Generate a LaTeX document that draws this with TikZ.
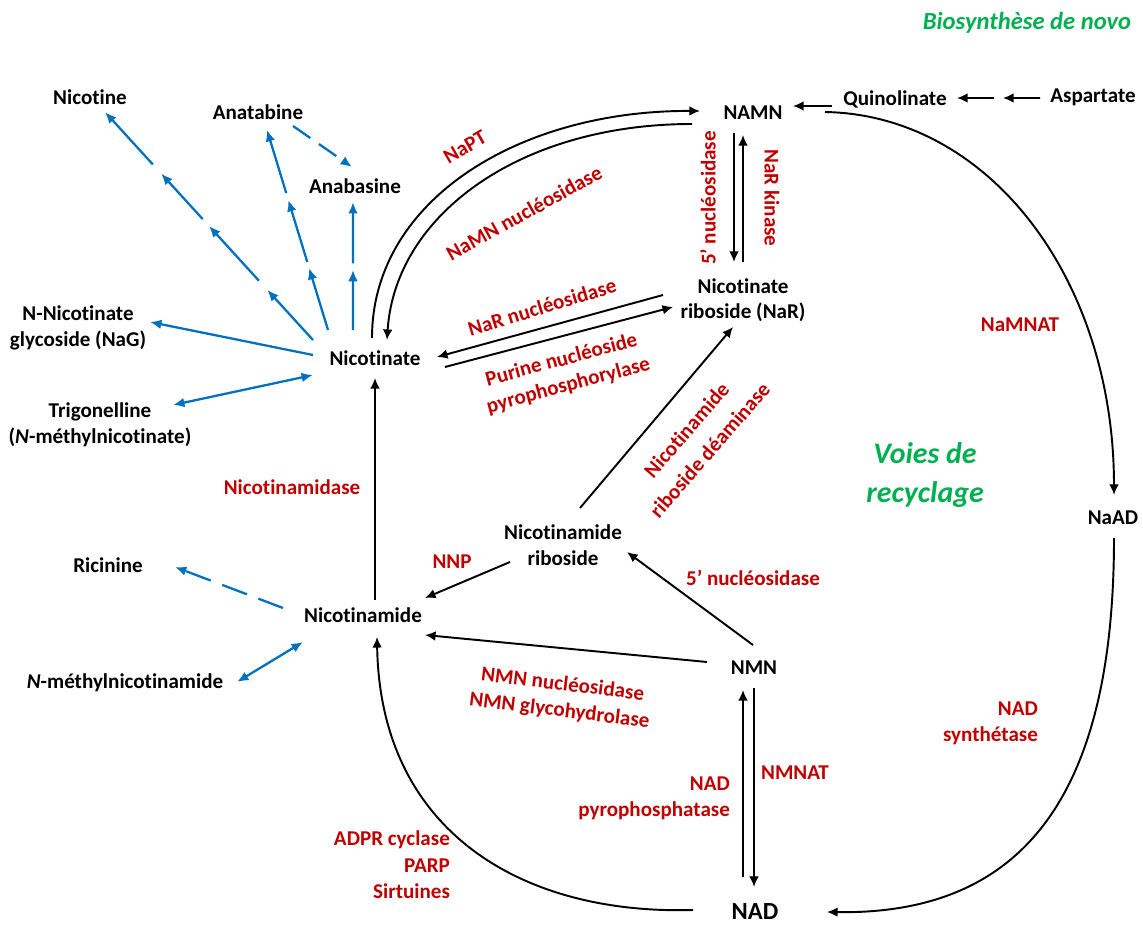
\documentclass[tikz,border=0pt]{standalone}
\usepackage{fontspec}
\setmainfont{Carlito}[Ligatures=NoCommon]
\usetikzlibrary{calc,arrows.meta}

\definecolor{enzred}{HTML}{C00000}
\definecolor{plantblue}{HTML}{0070C0}
\definecolor{voiegreen}{HTML}{00B050}

\tikzset{
  every node/.style={font=\bfseries\fontsize{12}{14.5}\selectfont, inner sep=1pt},
  sub/.style={align=center},
  enz/.style={text=enzred, align=center, font=\bfseries\fontsize{12}{15}\selectfont},
  voie/.style={text=voiegreen, align=center, font=\bfseries\itshape\fontsize{14}{17}\selectfont},
  reac/.style={-{Latex[length=6pt,width=5.5pt]}, line width=1.1pt},
  deriv/.style={-{Latex[length=6.5pt,width=5.5pt]}, line width=1.3pt, draw=plantblue},
  deriv2/.style={{Latex[length=6.5pt,width=5.5pt]}-{Latex[length=6.5pt,width=5.5pt]}, line width=1.3pt, draw=plantblue},
}

\begin{document}
\begin{tikzpicture}[x=0.02cm, y=-0.02cm]
        \useasboundingbox (0,0) rectangle (1143,925);

        % 1. Plant derivatives (left)
        \node (nicotine) at (90,97) {Nicotine};
        \node (anatabine) at (258,112) {Anatabine};
        \node (anabasine) at (355,186) {Anabasine};
        \node (nag) at (78,328) [sub] {N-Nicotinate\\glycoside (NaG)};
        \node (trigo) at (100,425) [sub] {Trigonelline\\(\textit{N}-méthylnicotinate)};
        \node (ricinine) at (108,565) {Ricinine};
        \node (mnam) at (125,683) {\textit{N}-méthylnicotinamide};

        % 2. Pyridine nucleotide cycle
        \node (nicotinate) at (375,358) {Nicotinate};
        \node (nicotinamide) at (363,615) {Nicotinamide};
        \node (namn) at (753,113) {NAMN};
        \node (quin) at (895,99) {Quinolinate};
        \node (asp) at (1093,97) {Aspartate};
        \node (nar) at (743,300) [sub] {Nicotinate\\riboside (NaR)};
        \node (naad) at (1113,518) {NaAD};
        \node (nr) at (563,545) [sub] {Nicotinamide\\riboside};
        \node (nmn) at (754,668) {NMN};
        \node (nad) at (755,912) [font=\bfseries\fontsize{14}{16}\selectfont] {NAD};

        % 3. Enzymes
        \node (napt) at (465,147) [enz, rotate=30] {NaPT};
        \node (namnnuc) at (524,213) [enz, rotate=29] {NaMN nucléosidase};
        \node (nuc5a) at (708,198) [enz, rotate=90] {5’ nucléosidase};
        \node (narkin) at (772,198) [enz, rotate=-90] {NaR kinase};
        \node (narnuc) at (542,307) [enz, rotate=17] {NaR nucléosidase};
        \node (pnp) at (565,373) [enz, rotate=15] {Purine nucléoside\\pyrophosphorylase};
        \node (nrdeam) at (698,440) [enz, rotate=49, font=\bfseries\fontsize{12}{17.5}\selectfont] {Nicotinamide\\riboside déaminase};
        \node (namidase) at (292,487) [enz] {Nicotinamidase};
        \node (nnp) at (452,562) [enz] {NNP};
        \node (nuc5b) at (753,578) [enz] {5’ nucléosidase};
        \node (nmnnuc) at (561,698) [enz, rotate=-7] {NMN nucléosidase\\NMN glycohydrolase};
        \node (nadpp) at (732,798) [enz, align=right, anchor=east] {NAD\\pyrophosphatase};
        \node (nmnat) at (795,773) [enz] {NMNAT};
        \node (nadsyn) at (1040,723) [enz, align=right, anchor=east] {NAD\\synthétase};
        \node (namnat) at (1020,325) [enz] {NaMNAT};
        \node (adpr) at (452,865) [enz, align=right, anchor=east] {ADPR cyclase\\PARP\\Sirtuines};

        % 4. Titles
        \node (voies) at (925,475) [voie, font=\bfseries\itshape\fontsize{17}{22}\selectfont] {Voies de\\recyclage};
        \node (denovo) at (1027,23) [voie] {Biosynthèse de novo};

        % 5. Blue arrows from Nicotinate / Nicotinamide
        \coordinate (nt-a) at ($(nicotinate)+(-62,-18)$);
        \coordinate (nt-b) at ($(nicotine)+(15,15)$);
        \foreach \s/\e in {0/0.22,0.26/0.5,0.53/0.73,0.77/1}
          \draw[deriv] ($(nt-a)!\s!(nt-b)$) -- ($(nt-a)!\e!(nt-b)$);
        \coordinate (at-a) at ($(nicotinate)+(-47,-28)$);
        \coordinate (at-b) at ($(anatabine)+(9,18)$);
        \foreach \s/\e in {0/0.31,0.34/0.65,0.685/1}
          \draw[deriv] ($(at-a)!\s!(at-b)$) -- ($(at-a)!\e!(at-b)$);
        \coordinate (ab-a) at ($(nicotinate)+(-22,-28)$);
        \coordinate (ab-b) at ($(anabasine)+(-2,16)$);
        \foreach \s/\e in {0/0.47,0.52/1}
          \draw[deriv] ($(ab-a)!\s!(ab-b)$) -- ($(ab-a)!\e!(ab-b)$);
        \draw[deriv, dash pattern=on 12pt off 6pt] ($(anatabine)+(35,14)$) -- ($(anabasine)+(-3,-19)$);
        \draw[deriv] ($(nicotinate)+(-62,-3)$) -- ($(nag)+(72,-6)$);
        \draw[deriv2] ($(nicotinate)+(-62,17)$) -- ($(trigo)+(73,-20)$);
        \draw[deriv, dash pattern=on 15pt off 7pt] ($(nicotinamide)+(-80,-7)$) -- ($(ricinine)+(67,2)$);
        \draw[deriv2] ($(nicotinamide)+(-60,27)$) -- ($(mnam)+(112,-1)$);

        % 6. De novo branch
        \coordinate (qa) at ($(quin)!0.5!(asp)$);
        \draw[reac] ($(asp)+(-53,1)$) -- ($(qa)+(9,0)$);
        \draw[reac] (qa) -- ($(quin)+(62,-1)$);
        \draw[reac] ($(quin)+(-63,7)$) -- ($(namn)+(40,-7)$);
        \draw[reac] ($(namn)+(72,-1)$) .. controls (990,115) and (1114,280) .. ($(naad)+(1,-23)$);
        \draw[reac] ($(naad)+(1,20)$) .. controls (1114,800) and (1020,915) .. ($(nad)+(72,0)$);

        % 7. Recycling
        \draw[reac] ($(nicotinate)+(-3,-20)$) .. controls (372,200) and (520,110) .. ($(namn)+(-53,-2)$);
        \draw[reac] ($(namn)+(-61,11)$) .. controls (520,124) and (395,215) .. ($(nicotinate)+(12,-18)$);
        \draw[reac] ($(namn)+(-19,20)$) -- ($(nar)+(-9,-38)$);
        \draw[reac] ($(nar)+(0,-38)$) -- ($(namn)+(-10,22)$);
        \draw[reac] ($(nar)+(-80,-5)$) -- ($(nicotinate)+(62,-1)$);
        \draw[reac] ($(nicotinate)+(70,9)$) -- ($(nar)+(-70,7)$);
        \draw[reac] ($(nr)+(17,-37)$) -- ($(nar)+(-10,27)$);
        \draw[reac] ($(nicotinamide)+(12,-15)$) -- ($(nicotinate)+(0,20)$);
        \draw[reac] ($(nr)+(-53,17)$) -- ($(nicotinamide)+(62,-17)$);
        \draw[reac] ($(nmn)+(-1,-23)$) -- ($(nr)+(64,7)$);
        \draw[reac] ($(nmn)+(-47,-6)$) -- ($(nicotinamide)+(62,20)$);
        \draw[reac] ($(nmn)+(0,20)$) -- ($(nad)+(-1,-25)$);
        \draw[reac] ($(nad)+(-12,-35)$) -- ($(nmn)+(-11,22)$);
        \draw[reac] ($(nad)+(-62,-2)$) .. controls (520,915) and (380,830) .. ($(nicotinamide)+(14,22)$);

    \end{tikzpicture}
\end{document}
